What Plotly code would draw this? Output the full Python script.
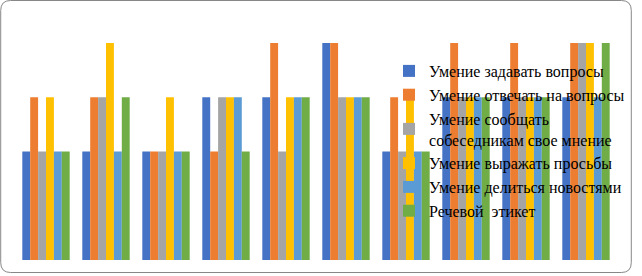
import plotly.graph_objects as go

categories = ["1", "2", "3", "4", "5", "6", "7", "8", "9", "10"]
series_names = [
    "Умение задавать вопросы",
    "Умение отвечать на вопросы",
    "Умение сообщать<br>собеседникам свое мнение",
    "Умение выражать просьбы",
    "Умение делиться новостями",
    "Речевой  этикет",
]
s_ask = [2, 2, 2, 3, 3, 4, 2, 3, 3, 3]
s_answer = [3, 3, 2, 2, 4, 4, 3, 4, 4, 4]
s_opinion = [2, 3, 2, 3, 2, 3, 2, 3, 3, 4]
s_request = [3, 4, 3, 3, 3, 3, 3, 3, 3, 4]
s_news = [2, 2, 2, 3, 3, 3, 2, 3, 3, 3]
s_etiquette = [2, 3, 2, 2, 3, 3, 2, 3, 3, 4]
series_values = [s_ask, s_answer, s_opinion, s_request, s_news, s_etiquette]
colors = ["#4472C4", "#ED7D31", "#A5A5A5", "#FFC000", "#5B9BD5", "#70AD47"]

W, H = 642, 276
L, R, T, B = 16, 18, 43, 16
PW, PH = W - L - R, H - T - B

fig = go.Figure()
for name, vals, c in zip(series_names, series_values, colors):
    fig.add_trace(go.Bar(x=categories, y=vals, name=name, marker_color=c, marker_line_width=0))

def px(x):
    return (x - L) / PW

def py(y):
    return (H - B - y) / PH

# rounded border
x0, y0, x1, y1, r = 0.5, 0.5, 639.5, 272.5, 10
path = (
    f"M {px(x0 + r)},{py(y0)} L {px(x1 - r)},{py(y0)} "
    f"Q {px(x1)},{py(y0)} {px(x1)},{py(y0 + r)} "
    f"L {px(x1)},{py(y1 - r)} Q {px(x1)},{py(y1)} {px(x1 - r)},{py(y1)} "
    f"L {px(x0 + r)},{py(y1)} Q {px(x0)},{py(y1)} {px(x0)},{py(y1 - r)} "
    f"L {px(x0)},{py(y0 + r)} Q {px(x0)},{py(y0)} {px(x0 + r)},{py(y0)} Z"
)
fig.add_shape(type="path", xref="paper", yref="paper", path=path,
              line=dict(color="#878787", width=1), layer="above")

fig.update_layout(
    width=W, height=H,
    margin=dict(l=L, r=R, t=T, b=B),
    paper_bgcolor="white", plot_bgcolor="white",
    barmode="group", bargap=0.21, bargroupgap=0,
    xaxis=dict(showticklabels=False, showgrid=False, zeroline=False, showline=False, ticks=""),
    yaxis=dict(range=[0, 4], showticklabels=False, showgrid=False, zeroline=False, showline=False, ticks=""),
    showlegend=True,
    legend=dict(
        x=px(394), y=py(54), xanchor="left", yanchor="top",
        bgcolor="rgba(0,0,0,0)",
        font=dict(family="Liberation Serif", size=16, color="black"),
        itemwidth=30, tracegroupgap=0,
    ),
)

fig.write_html(
    "out.html",
    config={"displayModeBar": False},
    post_script="document.body.style.margin='0';document.body.style.padding='0';",
)
